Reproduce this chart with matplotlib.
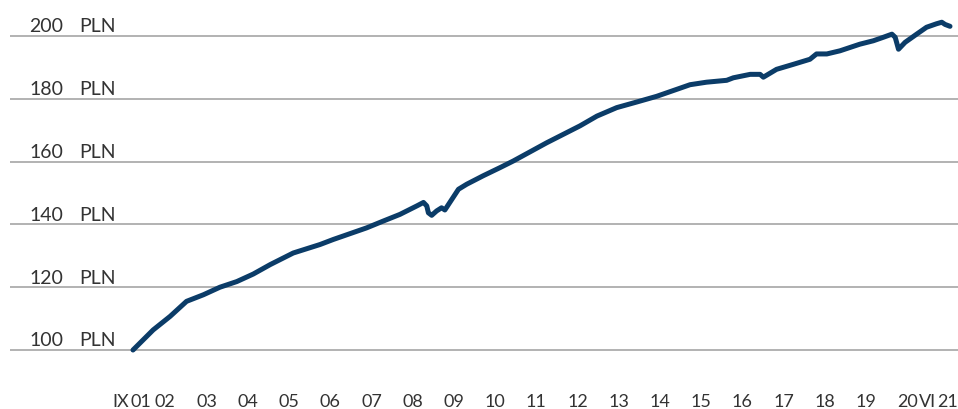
import matplotlib.pyplot as plt

# decimal year, fund unit value (PLN)
dates = [2001.67, 2002.16, 2002.57, 2002.97, 2003.38, 2003.78, 2004.19, 2004.59,
         2005.00, 2005.56, 2006.21, 2006.53, 2007.34, 2007.75, 2008.15, 2008.56,
         2008.72, 2008.80, 2008.84, 2008.92, 2009.04, 2009.16, 2009.24, 2009.36,
         2009.57, 2009.77, 2010.17, 2010.58, 2010.90, 2011.71, 2012.28, 2012.52,
         2012.93, 2013.41, 2013.90, 2014.38, 2014.95, 2015.19, 2015.59, 2016.08,
         2016.24, 2016.65, 2016.89, 2016.97, 2017.29, 2017.70, 2018.10, 2018.26,
         2018.51, 2018.83, 2019.31, 2019.64, 2019.88, 2020.09, 2020.17, 2020.25,
         2020.41, 2020.69, 2020.93, 2021.17, 2021.30, 2021.38, 2021.50]
values = [100.0, 106.4, 110.7, 115.5, 117.6, 120.0, 121.8, 124.2,
          127.2, 130.9, 133.6, 135.2, 138.9, 141.1, 143.2, 145.9,
          147.0, 145.9, 143.7, 142.9, 144.3, 145.3, 144.6, 147.0,
          151.2, 152.8, 155.5, 158.1, 160.2, 166.0, 169.8, 171.4,
          174.5, 177.2, 179.0, 180.8, 183.4, 184.5, 185.3, 185.9,
          186.7, 187.8, 187.8, 186.9, 189.4, 191.0, 192.6, 194.3,
          194.3, 195.3, 197.4, 198.5, 199.6, 200.6, 199.6, 195.8,
          198.0, 200.6, 202.8, 203.9, 204.4, 203.7, 203.1]

y_levels = [100, 120, 140, 160, 180, 200]

tick_pos = [2001.38, 2001.86, 2002.45, 2003.46, 2004.46, 2005.46, 2006.46, 2007.46,
            2008.46, 2009.46, 2010.46, 2011.46, 2012.46, 2013.46, 2014.46, 2015.46,
            2016.46, 2017.46, 2018.46, 2019.46, 2020.46, 2020.96, 2021.45]
tick_labels = ["IX", "01", "02", "03", "04", "05", "06", "07", "08", "09", "10",
               "11", "12", "13", "14", "15", "16", "17", "18", "19", "20", "VI", "21"]

plt.rcParams['font.family'] = ['Lato', 'DejaVu Sans']
text_color = '#333333'

fig = plt.figure(figsize=(9.58, 4.10), dpi=100)
ax = fig.add_axes([10 / 958, 1 - 370 / 410, 948 / 958, 370 / 410])

for lv in y_levels:
    ax.axhline(lv, color='#a6a6a6', linewidth=1.2, zorder=1)
    ax.text(0.0559, lv + 1.5, str(lv), transform=ax.get_yaxis_transform(),
            ha='right', va='baseline', fontsize=14, color=text_color)
    ax.text(0.0728, lv + 1.5, "PLN", transform=ax.get_yaxis_transform(),
            ha='left', va='baseline', fontsize=14, color=text_color)

ax.plot(dates, values, color='#0b3c68', linewidth=3.6,
        solid_capstyle='round', solid_joinstyle='round', zorder=3)

ax.set_xlim(1998.685, 2021.694)
ax.set_ylim(93.95, 211.8)
ax.set_xticks(tick_pos)
ax.set_xticklabels(tick_labels, fontsize=13, color=text_color)
ax.tick_params(axis='x', length=0, pad=17)
ax.set_yticks([])
for s in ax.spines.values():
    s.set_visible(False)

fig.savefig('out.png', dpi=100)
